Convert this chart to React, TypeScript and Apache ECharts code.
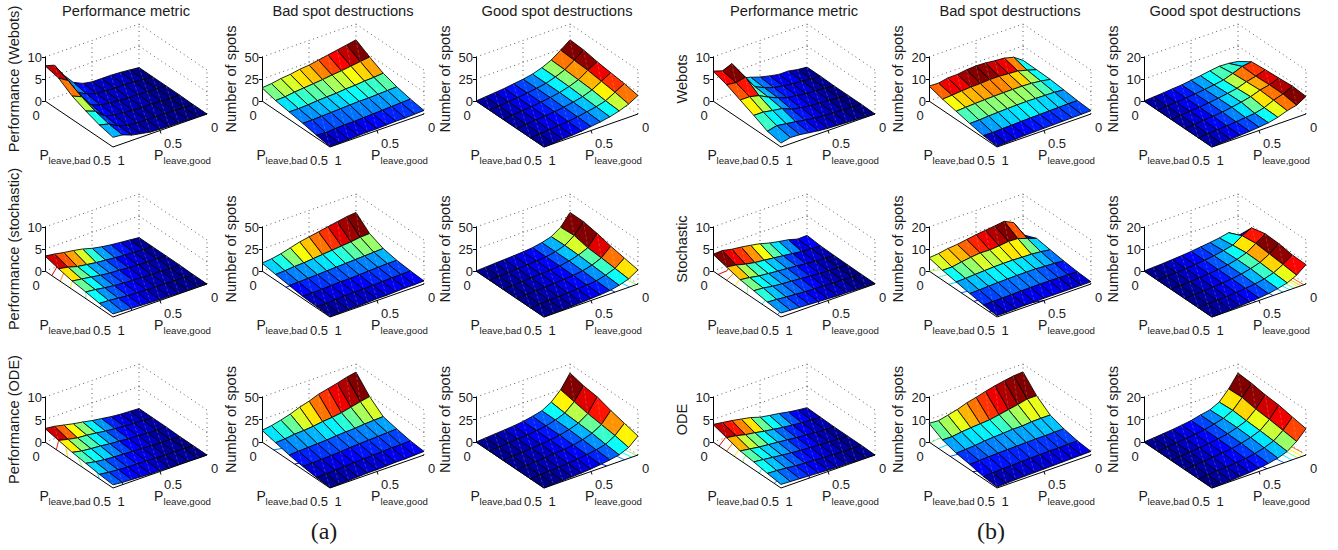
import React, { useEffect, useRef } from "react";
import * as echarts from "echarts";

// rows: P_leave,bad 0 .. 0.5 (6 steps), columns: P_leave,good 0 .. 1 (11 steps)
const perfWebotsA = [
  [0.1, 0.3, 0.5, 0.6, 0.6, 0.6, 1.0, 2.0, 4.4, 7.4, 8.0],
  [0.1, 0.2, 0.4, 0.5, 0.5, 0.6, 0.8, 1.4, 2.6, 6.0, 7.3],
  [0.1, 0.2, 0.3, 0.4, 0.4, 0.5, 0.7, 1.0, 1.8, 4.4, 5.3],
  [0.1, 0.1, 0.2, 0.3, 0.3, 0.4, 0.6, 0.8, 1.4, 3.2, 4.0],
  [0.0, 0.1, 0.2, 0.2, 0.3, 0.3, 0.4, 0.6, 1.2, 2.4, 2.9],
  [0.0, 0.1, 0.1, 0.2, 0.2, 0.3, 0.4, 0.8, 1.2, 2.0, 2.2],
];
const badWebotsA = [
  [32, 30, 28, 26, 24, 22, 21, 19, 18, 16, 15],
  [23, 21.5, 20, 18.5, 17.5, 16, 15, 14, 13, 11.5, 11],
  [15, 14, 13.5, 12.5, 12, 11, 10.5, 10, 9, 8.5, 8.5],
  [10, 9.5, 9, 8.5, 8.5, 8, 7.5, 7, 6.5, 6, 6],
  [6.5, 6, 5.5, 5, 4.5, 4, 3.5, 3.5, 3, 2, 3],
  [4, 3.5, 3, 3, 2.5, 2, 2, 1.5, 1, 0.5, 0.5],
];
const goodWebotsA = [
  [32, 24, 16.5, 11.5, 8, 6, 4.5, 3, 2, 1, 0],
  [31, 23, 16, 11.5, 8, 6, 4.5, 3, 2, 1, 0],
  [28, 22, 15, 11, 8, 6, 4.5, 3, 2, 1, 0],
  [26, 20, 14, 10, 7.5, 5.5, 4, 3, 2, 1, 0],
  [24, 18, 12, 9, 7, 5, 3.5, 2.5, 1.5, 0.7, 0],
  [21, 15, 11, 8, 6, 4.5, 3, 2, 1.5, 0.5, 0],
];
const perfStochA = [
  [0.1, 0.3, 0.5, 0.7, 1, 1.4, 2, 2.4, 2.7, 3.1, 3.4],
  [0.1, 0.2, 0.3, 0.4, 0.6, 0.8, 1, 1.3, 1.6, 2.2, 2.6],
  [0.1, 0.2, 0.2, 0.3, 0.4, 0.6, 0.7, 0.95, 1.3, 1.6, 1.9],
  [0.1, 0.1, 0.2, 0.2, 0.3, 0.4, 0.5, 0.7, 0.95, 1.3, 1.5],
  [0, 0.1, 0.1, 0.2, 0.2, 0.3, 0.4, 0.5, 0.7, 0.9, 1.0],
  [0, 0.1, 0.1, 0.1, 0.2, 0.2, 0.3, 0.4, 0.5, 0.6, 0.7],
];
const badStochA = [
  [29, 28, 26, 24, 22, 20, 18, 15, 12, 10, 9],
  [15.5, 15, 13.5, 12.5, 11.5, 10.5, 9.5, 8.5, 8, 7, 6.5],
  [9, 8.5, 8, 7.5, 7, 6.5, 6, 5.5, 5, 4.5, 4.5],
  [6, 6, 5.5, 5, 4.5, 4, 4, 3.5, 3, 2.5, 2.5],
  [4.5, 4, 4, 3.5, 3, 2.5, 2.5, 2, 1.5, 1, 1.5],
  [3.5, 3, 3, 2.5, 2, 2, 1.5, 1, 1, 0.5, 0.5],
];
const goodStochA = [
  [29, 16, 9, 6, 4, 3, 2.3, 1.7, 1.2, 0.6, 0],
  [29, 17, 9.5, 6, 4, 3, 2.3, 1.7, 1.2, 0.6, 0],
  [26, 13.5, 9, 6, 4, 3, 2.3, 1.7, 1.2, 0.6, 0],
  [22, 12.5, 8, 5.3, 3.8, 2.9, 2.2, 1.6, 1.1, 0.6, 0],
  [19, 11, 7, 4.3, 3.2, 2.4, 1.8, 1.3, 0.9, 0.5, 0],
  [16, 9.5, 6, 3.8, 2.8, 2.1, 1.5, 1.1, 0.7, 0.4, 0],
];
const perfOdeA = [
  [0.1, 0.2, 0.3, 0.5, 0.8, 1.1, 1.5, 1.85, 2.3, 2.75, 3],
  [0.1, 0.2, 0.3, 0.4, 0.6, 0.8, 1.1, 1.35, 1.5, 1.9, 2.4],
  [0.1, 0.1, 0.2, 0.3, 0.4, 0.6, 0.75, 1, 1.15, 1.35, 1.8],
  [0, 0.1, 0.1, 0.2, 0.3, 0.4, 0.5, 0.6, 0.75, 1, 1.4],
  [0, 0.1, 0.1, 0.1, 0.2, 0.3, 0.35, 0.4, 0.55, 0.7, 1],
  [0, 0, 0.1, 0.1, 0.1, 0.2, 0.2, 0.3, 0.4, 0.5, 0.7],
];
const badOdeA = [
  [41, 39, 36, 33.5, 31, 27, 24, 20, 17, 14.5, 13],
  [24, 22, 19.5, 17, 15.5, 14.5, 13, 12, 11.5, 10, 9.5],
  [12, 11.5, 11, 10, 9.5, 9, 8, 7.5, 7, 6.5, 6],
  [8.5, 8, 7.5, 7, 6.5, 6, 5, 4.5, 4, 3.5, 3.5],
  [5.5, 5, 5, 4.5, 4, 3.5, 3, 2.5, 2, 1.5, 1.5],
  [4, 3.5, 3, 3, 2.5, 2, 2, 1.5, 1, 0.5, 0.3],
];
const goodOdeA = [
  [40, 25, 15, 9, 6.5, 4.5, 3.2, 2.3, 1.6, 0.8, 0],
  [36, 22, 13, 9, 6, 4.5, 3.2, 2.3, 1.6, 0.8, 0],
  [34, 19, 12, 8.5, 6, 4.2, 3.1, 2.2, 1.5, 0.8, 0],
  [29, 17, 11, 7.5, 5.2, 3.8, 2.8, 2, 1.3, 0.7, 0],
  [25, 15, 9, 6.5, 4.8, 3.3, 2.4, 1.7, 1.1, 0.6, 0],
  [21, 12, 7.5, 5.5, 4, 2.8, 2, 1.4, 0.9, 0.5, 0],
];
const perfWebotsB = [
  [0.2, 0.4, 0.8, 0.8, 1.2, 1.7, 2.4, 3, 7, 6.1, 6.8],
  [0.2, 0.3, 0.6, 0.7, 1.0, 1.4, 2.1, 3.1, 6, 5.5, 5.8],
  [0.1, 0.3, 0.5, 0.6, 0.9, 1.2, 1.9, 2.8, 3.9, 4.4, 4.4],
  [0.1, 0.2, 0.4, 0.5, 0.7, 1, 1.4, 2.3, 2.6, 3, 3],
  [0.1, 0.2, 0.3, 0.4, 0.5, 0.7, 1, 1.4, 1.7, 2, 1.5],
  [0, 0.1, 0.2, 0.3, 0.4, 0.5, 0.7, 1, 1.3, 1.4, 0.9],
];
const badWebotsB = [
  [3.5, 6.4, 7.5, 7.8, 8.3, 8.5, 8.2, 7.6, 7.5, 6.6, 6.8],
  [3.4, 4.7, 5.8, 6.1, 6.4, 6.4, 6.1, 6, 5.7, 5.3, 5],
  [3.2, 3.9, 4.4, 4.6, 4.6, 4.6, 4.5, 4.4, 4.2, 4, 3.7],
  [2.6, 3, 3.1, 3.2, 3.3, 3.2, 3.1, 2.9, 2.7, 2.4, 2.3],
  [1.9, 1.9, 1.8, 1.7, 1.6, 1.5, 1.4, 1.2, 1.1, 0.9, 1.0],
  [1.5, 1.4, 1.3, 1.2, 1.1, 1, 0.9, 0.8, 0.6, 0.4, 0.3],
];
const goodWebotsB = [
  [3, 3.6, 3.8, 3.2, 2.5, 1.9, 1.3, 1, 0.6, 0.3, 0],
  [7, 6.4, 4.7, 3.2, 2.5, 1.9, 1.4, 1, 0.6, 0.3, 0],
  [7.6, 6.1, 5.1, 3.6, 2.8, 2.1, 1.5, 1, 0.7, 0.3, 0],
  [8, 6.4, 5.5, 4, 3, 2.2, 1.5, 1.1, 0.7, 0.3, 0],
  [8.5, 6.4, 5.1, 3.2, 2.1, 1.7, 1.2, 0.9, 0.6, 0.3, 0],
  [8, 5.5, 4.5, 3, 2, 1.5, 1.1, 0.8, 0.5, 0.3, 0],
];
const perfStochB = [
  [0.6, 0.5, 1.1, 1.45, 1.85, 2.45, 2.85, 3.2, 3.45, 3.9, 3.8],
  [0.3, 0.4, 0.5, 0.8, 1.05, 1.3, 1.55, 1.75, 2.15, 2.7, 3],
  [0.2, 0.3, 0.4, 0.6, 0.8, 1, 1.15, 1.35, 1.55, 1.95, 2.2],
  [0.15, 0.25, 0.3, 0.45, 0.6, 0.8, 0.95, 1.1, 1.3, 1.65, 1.8],
  [0.1, 0.2, 0.3, 0.35, 0.45, 0.55, 0.65, 0.8, 0.95, 1.15, 1.3],
  [0.1, 0.1, 0.2, 0.3, 0.3, 0.4, 0.5, 0.6, 0.7, 0.8, 0.9],
];
const badStochB = [
  [1.5, 8.5, 10.6, 10, 9.5, 9, 8.3, 7.6, 7.2, 6.4, 6],
  [4, 5.5, 6.9, 7.1, 6.6, 6.2, 6.4, 5.9, 5.3, 4.5, 4.5],
  [3, 3.6, 4, 4.1, 4.3, 4.3, 4.2, 4, 3.8, 3.5, 3.4],
  [2.1, 2.5, 2.7, 3, 3, 3, 2.9, 2.8, 2.6, 2.4, 2.3],
  [1.4, 1.5, 1.6, 1.7, 1.7, 1.7, 1.6, 1.5, 1.4, 1.3, 1.3],
  [1, 1, 1, 1, 1, 1, 0.9, 0.9, 0.7, 0.6, 0.6],
];
const goodStochB = [
  [1, 3.9, 3, 2.4, 1.9, 1.4, 1, 0.7, 0.4, 0.2, 0],
  [8.8, 6.7, 3.9, 2.9, 2.1, 1.5, 1.1, 0.7, 0.4, 0.2, 0],
  [10.3, 7.4, 4.6, 3.1, 2.1, 1.5, 1.1, 0.7, 0.4, 0.2, 0],
  [10, 6.8, 4.4, 3.1, 2.1, 1.5, 1, 0.7, 0.4, 0.2, 0],
  [9, 6.2, 3.9, 2.6, 1.8, 1.3, 0.9, 0.6, 0.4, 0.2, 0],
  [8.8, 5.5, 3.5, 2.4, 1.6, 1.1, 0.8, 0.5, 0.3, 0.1, 0],
];
const perfOdeB = [
  [0.3, 0.5, 0.8, 1.2, 1.5, 1.85, 2.5, 2.9, 3.3, 3.6, 3.9],
  [0.2, 0.3, 0.45, 0.65, 0.9, 1.2, 1.5, 1.9, 2.2, 2.7, 3],
  [0.1, 0.2, 0.3, 0.5, 0.65, 0.9, 1.1, 1.3, 1.5, 1.8, 2.1],
  [0.1, 0.15, 0.25, 0.35, 0.5, 0.6, 0.8, 1, 1.25, 1.5, 1.7],
  [0.1, 0.1, 0.15, 0.25, 0.3, 0.45, 0.55, 0.7, 0.9, 1.1, 1.2],
  [0, 0.1, 0.1, 0.2, 0.2, 0.3, 0.4, 0.5, 0.6, 0.7, 0.8],
];
const badOdeB = [
  [16.5, 16.2, 15.5, 14.7, 13.7, 12.5, 11.5, 10, 9, 8, 8.3],
  [10, 10, 9, 8.2, 7.4, 6.6, 6.3, 6, 5.6, 5, 5],
  [5.5, 5.5, 5.4, 5, 5, 4.7, 4.5, 4.2, 3.7, 3.4, 3.2],
  [3.5, 3.4, 3.3, 3.3, 3.2, 3.1, 3, 2.9, 2.7, 2.5, 2.3],
  [2.2, 2.1, 2, 2, 1.9, 1.8, 1.7, 1.5, 1.4, 1.2, 1],
  [1.6, 1.5, 1.4, 1.3, 1.2, 1.1, 1, 0.9, 0.8, 0.6, 0.4],
];
const goodOdeB = [
  [16, 10.4, 6, 4, 3.2, 2.2, 1.6, 1.1, 0.7, 0.3, 0],
  [15.5, 10.7, 6.4, 4.3, 3.2, 2.2, 1.6, 1.1, 0.7, 0.3, 0],
  [14.5, 9.6, 5.9, 4.3, 3, 2.2, 1.6, 1.1, 0.7, 0.3, 0],
  [14, 9.1, 5.6, 4, 2.9, 2, 1.5, 1, 0.6, 0.3, 0],
  [12.8, 8.3, 5.1, 3.5, 2.4, 1.6, 1.2, 0.8, 0.5, 0.2, 0],
  [11.7, 7.5, 4.5, 3, 2.1, 1.4, 1, 0.7, 0.4, 0.2, 0],
];

const columnTitles = ["Performance metric", "Bad spot destructions", "Good spot destructions", "Performance metric", "Bad spot destructions", "Good spot destructions"];
const rowMatrices = [
  [perfWebotsA, badWebotsA, goodWebotsA, perfWebotsB, badWebotsB, goodWebotsB],
  [perfStochA, badStochA, goodStochA, perfStochB, badStochB, goodStochB],
  [perfOdeA, badOdeA, goodOdeA, perfOdeB, badOdeB, goodOdeB],
];
const rowNames = [
  ["Performance (Webots)", "Number of spots", "Number of spots", "Webots", "Number of spots", "Number of spots"],
  ["Performance (stochastic)", "Number of spots", "Number of spots", "Stochastic", "Number of spots", "Number of spots"],
  ["Performance (ODE)", "Number of spots", "Number of spots", "ODE", "Number of spots", "Number of spots"],
];
const columnZMax = [10, 50, 50, 10, 20, 20];
const columnX = [45, 262, 476, 713, 929, 1144];
const rowTop = [57, 227, 397];
const rowHeight = [44, 44, 45];
const W = 162;
const FONT = '"Liberation Sans", Arial, sans-serif';
const TEXT = "#1a1a1a";

function jet(t: number) {
  const q = Math.min(63, Math.max(0, Math.floor(t * 64))) / 63;
  const c = (v: number) => Math.round(255 * Math.min(1, Math.max(0, v)));
  return `rgb(${c(1.5 - Math.abs(4 * q - 3))},${c(1.5 - Math.abs(4 * q - 2))},${c(1.5 - Math.abs(4 * q - 1))})`;
}

function contourStep(range: number) {
  if (range <= 4.5) return 0.5;
  if (range <= 11) return 1;
  if (range <= 22) return 2;
  return 5;
}

function buildOption() {
  const grid: any[] = [], xAxis: any[] = [], yAxis: any[] = [], series: any[] = [];
  const title: any[] = [];
  columnTitles.forEach((t, c) => {
    title.push({ text: t, left: columnX[c] + 81, top: 3, padding: 0, textAlign: "center", textStyle: { fontFamily: FONT, fontSize: 14.7, fontWeight: "normal", color: TEXT } });
  });
  title.push({ text: "(a)", left: 324, top: 519, padding: 0, textAlign: "center", textStyle: { fontFamily: '"Liberation Serif", serif', fontSize: 24, fontWeight: "normal", color: TEXT } });
  title.push({ text: "(b)", left: 991, top: 519, padding: 0, textAlign: "center", textStyle: { fontFamily: '"Liberation Serif", serif', fontSize: 24, fontWeight: "normal", color: TEXT } });

  let p = 0;
  rowMatrices.forEach((row, r) => {
    row.forEach((m, c) => {
      const zmax = columnZMax[c];
      const h = rowHeight[r];
      const idx = p++;
      grid.push({ left: columnX[c], top: rowTop[r], width: W, height: h });
      xAxis.push({ type: "value", gridIndex: idx, min: 0, max: 1, show: false });
      yAxis.push({
        type: "value", gridIndex: idx, min: 0, max: zmax, interval: zmax / 2,
        name: rowNames[r][c], nameLocation: "middle", nameGap: 24, nameRotate: 90,
        nameTextStyle: { fontFamily: FONT, fontSize: 14.6, color: TEXT },
        axisLine: { show: true, lineStyle: { color: "#000", width: 1 } },
        axisTick: { show: true, length: 3, lineStyle: { color: "#000", width: 1 } },
        axisLabel: { fontFamily: FONT, fontSize: 13, lineHeight: 13, color: TEXT, margin: 3, verticalAlign: "bottom", padding: [0, 0, -7, 0] },
        splitLine: { show: false },
      });
      const proj = (api: any, b: number, g: number, z: number) =>
        api.coord([(b * 68 + (1 - g) * 94) / W, z - ((b * 46 + (1 - g) * -33) / h) * zmax]);
      const flat = m.flat();
      const zMin = Math.min(...flat), zMaxData = Math.max(...flat);
      const norm = (v: number) => (v - zMin) / (zMaxData - zMin || 1);

      // frame: dotted walls, floor edges, contours, floor tick labels
      series.push({
        type: "custom", xAxisIndex: idx, yAxisIndex: idx, z: 2, silent: true, animation: false,
        data: [[0, 0]],
        renderItem: (_: any, api: any) => {
          const children: any[] = [];
          const dotted = (a: number[], d: number[]) => children.push({
            type: "line", shape: { x1: a[0], y1: a[1], x2: d[0], y2: d[1] },
            style: { stroke: "#333", lineWidth: 0.8, lineDash: [1, 3.5] },
          });
          [0, zmax / 2, zmax].forEach((z) => {
            dotted(proj(api, 0, 1, z), proj(api, 0, 0, z));
            dotted(proj(api, 0, 0, z), proj(api, 1, 0, z));
          });
          dotted(proj(api, 0, 0.5, 0), proj(api, 0, 0.5, zmax));
          dotted(proj(api, 0, 0, 0), proj(api, 0, 0, zmax));
          dotted(proj(api, 1, 0, 0), proj(api, 1, 0, zmax));
          if (r > 0) {
            const step = contourStep(zMaxData - zMin);
            for (let lev = step; lev < zMaxData; lev += step) {
              const stroke = jet(norm(lev));
              for (let i = 0; i < 5; i++) for (let j = 0; j < 10; j++) {
                const cs = [[i, j], [i + 1, j], [i + 1, j + 1], [i, j + 1]];
                const pts: number[][] = [];
                for (let k = 0; k < 4; k++) {
                  const a = cs[k], d = cs[(k + 1) % 4];
                  const va = m[a[0]][a[1]], vd = m[d[0]][d[1]];
                  if ((va < lev) !== (vd < lev)) {
                    const t = (lev - va) / (vd - va);
                    pts.push(proj(api, (a[0] + t * (d[0] - a[0])) / 5, (a[1] + t * (d[1] - a[1])) / 10, 0));
                  }
                }
                for (let k = 0; k + 1 < pts.length; k += 2) {
                  children.push({ type: "line", shape: { x1: pts[k][0], y1: pts[k][1], x2: pts[k + 1][0], y2: pts[k + 1][1] }, style: { stroke, lineWidth: 1 } });
                }
              }
            }
          }
          const solid = (a: number[], d: number[]) => children.push({
            type: "line", shape: { x1: a[0], y1: a[1], x2: d[0], y2: d[1] }, style: { stroke: "#000", lineWidth: 1 },
          });
          const L = proj(api, 0, 1, 0), B = proj(api, 1, 1, 0), R = proj(api, 1, 0, 0), M = proj(api, 1, 0.5, 0);
          solid(L, B);
          solid(B, R);
          solid(M, [M[0] + 1, M[1] + 3]);
          const label = (text: string, dx: number, dy: number, size = 13, align = "center") => children.push({
            type: "text",
            style: { text, x: L[0] + dx, y: L[1] + dy, fill: TEXT, font: `${size}px ${FONT}`, align, verticalAlign: "middle" },
          });
          label("0", -9, 14);
          label("0.5", 57, 59);
          label("1", 76, 59);
          label("0.5", 128, 42);
          label("0", 169.5, 26);
          label("P", -5.5, 54, 14, "left");
          label("leave,bad", 3.5, 59, 9.7, "left");
          label("P", 109, 54, 14, "left");
          label("leave,good", 118.5, 59, 9.7, "left");
          return { type: "group", children };
        },
      });

      // surface, far cells first
      const cells: number[][] = [];
      for (let i = 0; i < 5; i++) for (let j = 0; j < 10; j++) {
        cells.push([i, j, m[i][j], m[i + 1][j], m[i + 1][j + 1], m[i][j + 1]]);
      }
      cells.sort((a, d) => a[0] + a[1] - (d[0] + d[1]));
      series.push({
        type: "custom", xAxisIndex: idx, yAxisIndex: idx, z: 3, silent: true, animation: false,
        data: cells,
        renderItem: (_: any, api: any) => {
          const i = api.value(0), j = api.value(1);
          const a = proj(api, i / 5, j / 10, api.value(2));
          const b = proj(api, (i + 1) / 5, j / 10, api.value(3));
          const d = proj(api, (i + 1) / 5, (j + 1) / 10, api.value(4));
          const e = proj(api, i / 5, (j + 1) / 10, api.value(5));
          return {
            type: "group",
            children: [
              { type: "polygon", shape: { points: [a, b, d, e] }, style: { fill: jet(norm(api.value(2))), stroke: "#000", lineWidth: 0.85 } },
              { type: "line", shape: { x1: a[0], y1: a[1], x2: d[0], y2: d[1] }, style: { stroke: "#fff", opacity: 0.4, lineWidth: 0.5, lineDash: [3, 2] } },
            ],
          };
        },
      });
    });
  });
  return { animation: false, backgroundColor: "#fff", title, grid, xAxis, yAxis, series };
}

export default function App() {
  const ref = useRef<HTMLDivElement>(null);
  useEffect(() => {
    document.body.style.margin = "0";
    const chart = echarts.init(ref.current!, undefined, { renderer: "svg" });
    chart.setOption(buildOption() as any);
    return () => chart.dispose();
  }, []);
  return <div ref={ref} style={{ width: 1338, height: 550 }} />;
}
